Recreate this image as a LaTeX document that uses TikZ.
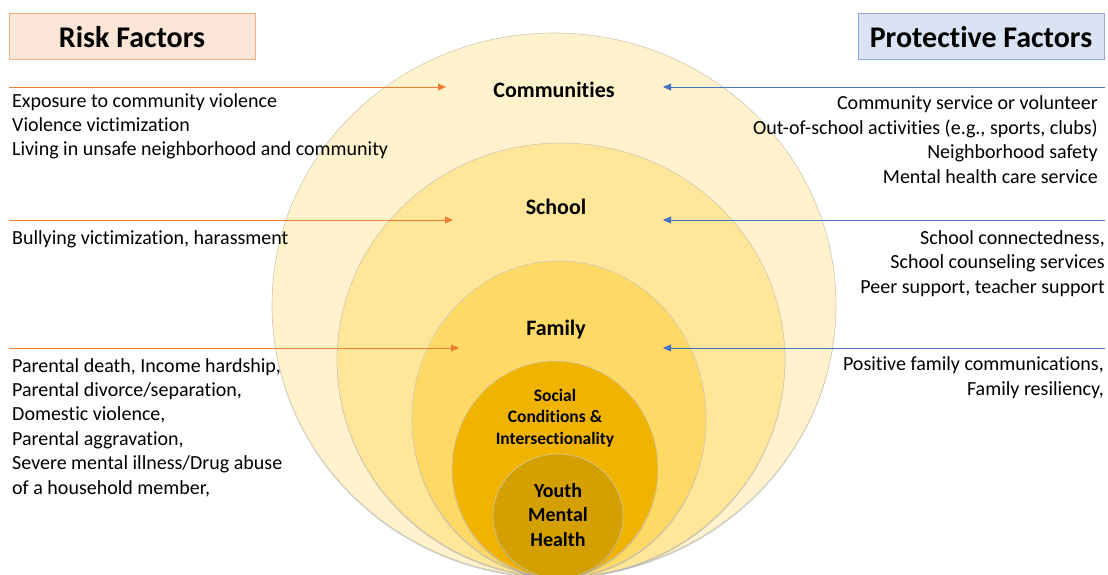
\documentclass[tikz,border=0pt]{standalone}
\usepackage{fontspec}
\setmainfont{Carlito}[Ligatures=NoCommon]
\usetikzlibrary{arrows.meta,shadows}

\definecolor{riskfill}{HTML}{FBE5D6}
\definecolor{riskedge}{HTML}{F4B183}
\definecolor{protfill}{HTML}{DAE3F3}
\definecolor{protedge}{HTML}{8FAADC}
\definecolor{riskline}{HTML}{ED7D31}
\definecolor{protline}{HTML}{4472C4}
\definecolor{ringA}{HTML}{FFF2CC}
\definecolor{ringB}{HTML}{FFE699}
\definecolor{ringC}{HTML}{FFD966}
\definecolor{ringD}{HTML}{F0B400}
\definecolor{ringE}{HTML}{D4A000}
\definecolor{ringedge}{HTML}{D0C7B0}

\tikzset{
  headbox/.style={draw, line width=1pt, minimum width=246pt, minimum height=46pt,
    inner sep=0pt, font=\bfseries\fontsize{30}{36}\selectfont},
  ring/.style={draw=ringedge, line width=0.6pt,
    drop shadow={shadow xshift=0pt, shadow yshift=-1.5pt, opacity=0.3, fill=black!60}},
  body/.style={inner sep=0pt, font=\fontsize{20}{24.4}\selectfont},
  ringlabel/.style={inner sep=0pt, align=center, font=\bfseries\fontsize{22}{26}\selectfont},
  risk arrow/.style={draw=riskline, line width=0.8pt, -{Triangle[length=8pt,width=7pt]}},
  prot arrow/.style={draw=protline, line width=0.8pt, -{Triangle[length=8pt,width=7pt]}},
}

\begin{document}
\begin{tikzpicture}[x=1pt,y=-1pt]
\useasboundingbox (0,0) rectangle (1108,575);

% nested levels, all resting on the bottom edge
\begin{scope}
  \clip (0,0) rectangle (1108,575);
  \path[ring, fill=ringA] (554,305) ellipse [x radius=282pt, y radius=272pt];
  \path[ring, fill=ringB] (561,360) ellipse [x radius=224pt, y radius=217pt];
  \path[ring, fill=ringC] (559,419) ellipse [x radius=147pt, y radius=158pt];
  \path[ring, fill=ringD] (555,469) ellipse [x radius=103pt, y radius=108pt];
  \path[ring, fill=ringE] (558,516) ellipse [x radius=65pt, y radius=62pt];
\end{scope}

% column headers
\node[headbox, draw=riskedge, fill=riskfill] (riskhead) at (132,37) {Risk Factors};
\node[headbox, draw=protedge, fill=protfill] (prothead) at (981,37) {Protective Factors};

% level labels (base anchor sits on the last line)
\node[ringlabel, anchor=base] (comm) at (554,98) {Communities};
\node[ringlabel, anchor=base] (school) at (556,214) {School};
\node[ringlabel, anchor=base] (family) at (556,335) {Family};
\node[ringlabel, anchor=base, font=\bfseries\fontsize{17.5}{21.5}\selectfont] (social) at (555,444)
  {Social\\Conditions \&\\Intersectionality};
\node[ringlabel, anchor=base, font=\bfseries\fontsize{20}{24.2}\selectfont] (youth) at (558,546)
  {Youth\\Mental\\Health};

% arrow end points
\coordinate (rc0) at (9,87);    \coordinate (rc1) at (446,87);
\coordinate (pc0) at (1105,87); \coordinate (pc1) at (663,87);
\coordinate (rs0) at (9,220);   \coordinate (rs1) at (453,220);
\coordinate (ps0) at (1105,220);\coordinate (ps1) at (663,220);
\coordinate (rf0) at (9,348);   \coordinate (rf1) at (459,348);
\coordinate (pf0) at (1105,348);\coordinate (pf1) at (663,348);

\draw[risk arrow] (rc0) -- (rc1);
\draw[prot arrow] (pc0) -- (pc1);
\draw[risk arrow] (rs0) -- (rs1);
\draw[prot arrow] (ps0) -- (ps1);
\draw[risk arrow] (rf0) -- (rf1);
\draw[prot arrow] (pf0) -- (pf1);

% risk factors
\node[body, align=left, anchor=base west] (riskcomm) at (12,156)
  {Exposure to community violence\\Violence victimization\\Living in unsafe neighborhood and community};
\node[body, align=left, anchor=base west] (riskschool) at (12,244)
  {Bullying victimization, harassment};
\node[body, align=left, anchor=base west] (riskfamily) at (12,494)
  {Parental death, Income hardship,\\Parental divorce/separation,\\Domestic violence,\\Parental aggravation,\\Severe mental illness/Drug abuse\\of a household member,};

% protective factors
\node[body, align=right, anchor=base east] (protcomm) at (1098,183)
  {Community service or volunteer\\Out-of-school activities (e.g., sports, clubs)\\Neighborhood safety\\Mental health care service};
\node[body, align=right, anchor=base east] (protschool) at (1105,293)
  {School connectedness,\\School counseling services\\Peer support, teacher support};
\node[body, align=right, anchor=base east] (protfamily) at (1104,395)
  {Positive family communications,\\Family resiliency,};
\end{tikzpicture}
\end{document}
